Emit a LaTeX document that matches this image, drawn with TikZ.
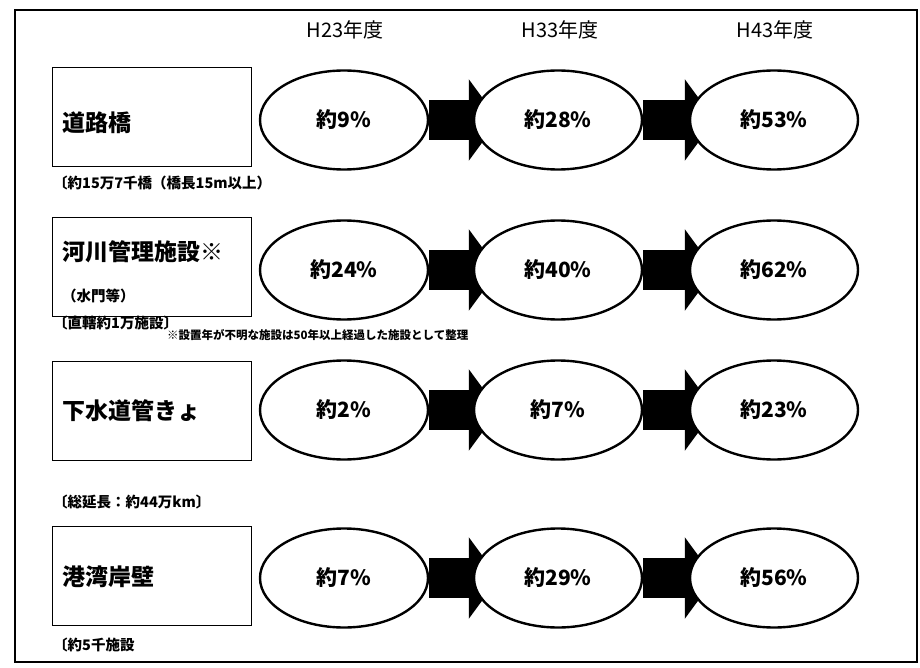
\documentclass[tikz,border=0pt]{standalone}
\usepackage{fontspec}
\setmainfont{Noto Sans CJK JP}
\usetikzlibrary{shapes.geometric}
\usetikzlibrary{arrows.meta}
\usetikzlibrary{backgrounds}

\begin{document}
\begin{tikzpicture}[x=1pt,y=-1pt,
        item/.style={draw,line width=1pt,minimum width=199pt,minimum height=99pt},
        itemtext/.style={anchor=west,inner sep=0pt,font=\bfseries\fontsize{23}{26}\selectfont},
        subtext/.style={anchor=west,inner sep=0pt,font=\bfseries\fontsize{14.5}{16}\selectfont},
        notetext/.style={anchor=west,inner sep=0pt,font=\bfseries\fontsize{11.5}{13}\selectfont},
        year/.style={font=\fontsize{20}{22}\selectfont},
        rate/.style={draw,ellipse,line width=2.4pt,fill=white,minimum width=168pt,minimum height=99pt,
            font=\bfseries\fontsize{21}{24}\selectfont},
        flow/.style={line width=40pt,shorten >=-26pt,-{Triangle[width=80pt,length=30pt]}}]
        \useasboundingbox (0,0) rectangle (920,668);
        \draw[line width=1.2pt] (15,10) rectangle (917,662);

        \node[year] (h1) at (345,30) {H23年度};
        \node[year] (h2) at (560,30) {H33年度};
        \node[year] (h3) at (775,30) {H43年度};

        \node[item] (b1) at (152,117) {};
        \node[itemtext] (t1) at (62,123) {道路橋};
        \node[subtext] (l1) at (53,183) {〔約15万7千橋（橋長15m以上）};
        \node[rate] (e11) at (344,120) {約9\%};
        \node[rate] (e12) at (558,120) {約28\%};
        \node[rate] (e13) at (774,120) {約53\%};

        \node[item] (b2) at (152,267) {};
        \node[itemtext] (t2) at (62,252) {河川管理施設※};
        \node[subtext] (s2) at (62,296) {（水門等）};
        \node[subtext] (l2) at (53,323) {〔直轄約1万施設〕};
        \node[notetext] (n2) at (167,335) {※設置年が不明な施設は50年以上経過した施設として整理};
        \node[rate] (e21) at (344,270) {約24\%};
        \node[rate] (e22) at (558,270) {約40\%};
        \node[rate] (e23) at (774,270) {約62\%};

        \node[item] (b3) at (152,411) {};
        \node[itemtext] (t3) at (62,411) {下水道管きょ};
        \node[subtext] (l3) at (53,502) {〔総延長：約44万km〕};
        \node[rate] (e31) at (344,410) {約2\%};
        \node[rate] (e32) at (558,410) {約7\%};
        \node[rate] (e33) at (774,410) {約23\%};

        \node[item] (b4) at (152,576) {};
        \node[itemtext] (t4) at (62,577) {港湾岸壁};
        \node[subtext] (l4) at (53,645) {〔約5千施設};
        \node[rate] (e41) at (344,578) {約7\%};
        \node[rate] (e42) at (558,578) {約29\%};
        \node[rate] (e43) at (774,578) {約56\%};

        \begin{scope}[on background layer]
            \draw[flow] (e11) -- (e12);
            \draw[flow] (e12) -- (e13);
            \draw[flow] (e21) -- (e22);
            \draw[flow] (e22) -- (e23);
            \draw[flow] (e31) -- (e32);
            \draw[flow] (e32) -- (e33);
            \draw[flow] (e41) -- (e42);
            \draw[flow] (e42) -- (e43);
        \end{scope}
    \end{tikzpicture}
\end{document}
